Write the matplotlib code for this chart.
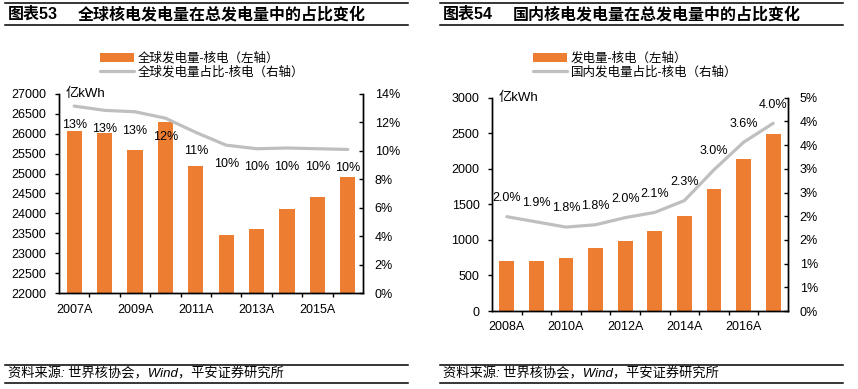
import numpy as np
import matplotlib
matplotlib.use("Agg")
import matplotlib.pyplot as plt
from matplotlib.lines import Line2D
from matplotlib.ticker import FuncFormatter, FixedLocator

ORANGE = "#ED7D31"
GREY = "#BFBFBF"
INK = "#000000"

plt.rcParams.update({
    "font.family": ["Liberation Sans", "Noto Sans CJK SC"],
    "font.size": 9,
    "axes.linewidth": 1.0,
})

# ---- data: left chart (global) ----
g_years = ["2007A", "2008A", "2009A", "2010A", "2011A",
           "2012A", "2013A", "2014A", "2015A", "2016A"]
g_gen = [26080, 26010, 25600, 26300, 25180, 23460, 23600, 24120, 24420, 24920]
g_share = [13.15, 12.85, 12.75, 12.3, 11.3, 10.4, 10.15, 10.2, 10.15, 10.1]

# ---- data: right chart (China) ----
c_years = ["2008A", "2009A", "2010A", "2011A", "2012A",
           "2013A", "2014A", "2015A", "2016A", "2017A"]
c_gen = [700, 705, 752, 880, 990, 1120, 1335, 1720, 2140, 2490]
c_share = [1.99, 1.88, 1.77, 1.82, 1.97, 2.08, 2.33, 2.98, 3.56, 3.96]

W, H = 858, 389
fig = plt.figure(figsize=(W / 100, H / 100), dpi=100)


def fx(px):
    return px / W


def fy(py):
    return 1 - py / H


def rule(x0, x1, y):
    fig.add_artist(Line2D([fx(x0), fx(x1)], [fy(y), fy(y)],
                          transform=fig.transFigure, color=INK, lw=1.1))


def half_up(v):
    return f"{int(np.floor(v + 0.5))}%"


def panel(rect, cats, gen, share, ylim, yticks, y2lim, y2ticks, y2fmt,
          lbl_fmt, lbl_dy, names, legend_xy, xlab_pad):
    ax = fig.add_axes(rect)
    x = np.arange(len(cats))
    bars = ax.bar(x, gen, width=0.5, color=ORANGE, zorder=2)
    ax.set_xlim(-0.5, len(cats) - 0.5)
    ax.set_ylim(*ylim)
    ax.set_yticks(yticks)
    ax.spines["top"].set_visible(False)
    ax.tick_params(axis="y", direction="out", length=3, width=1, pad=6,
                   labelsize=9)
    ax.set_xticks(x[::2])
    ax.set_xticklabels(cats[::2])
    ax.tick_params(axis="x", which="major", length=0, pad=xlab_pad, labelsize=9)
    ax.xaxis.set_minor_locator(FixedLocator(x[:-1] + 0.5))
    ax.tick_params(axis="x", which="minor", direction="out", length=3, width=1)

    ax2 = ax.twinx()
    line, = ax2.plot(x, share, color=GREY, lw=2.3, solid_capstyle="round",
                     zorder=3)
    ax2.set_ylim(*y2lim)
    ax2.set_yticks(y2ticks)
    ax2.yaxis.set_major_formatter(FuncFormatter(lambda v, p: y2fmt(v)))
    ax2.spines["top"].set_visible(False)
    ax2.tick_params(axis="y", direction="in", length=3, width=1, pad=8.5,
                    labelsize=9)
    for xi, v in zip(x, share):
        ax2.annotate(lbl_fmt(v), (xi, v), textcoords="offset points",
                     xytext=(0, lbl_dy), ha="center", va="center", fontsize=9)

    ax.text(0.022, 1.0, "亿kWh", transform=ax.transAxes, ha="left",
            va="center", fontsize=9.5)
    ax.legend([bars, line], names, loc="upper left",
              bbox_to_anchor=(fx(legend_xy[0]), fy(legend_xy[1])),
              bbox_transform=fig.transFigure, frameon=False, fontsize=9,
              handlelength=2.7, handleheight=0.75, handletextpad=0.3,
              labelspacing=0.1, borderaxespad=0, borderpad=0)
    return ax


# left panel
panel([fx(59), fy(293), fx(363 - 59), (293 - 94) / H],
      g_years, g_gen, g_share,
      (22000, 27000), np.arange(22000, 27001, 500),
      (0, 14), np.arange(0, 14.1, 2), lambda v: f"{v:.0f}%",
      lambda v: f"{v:.0f}%", -13.5,
      ["全球发电量-核电（左轴）", "全球发电量占比-核电（右轴）"],
      (100, 52), 8)

# right panel
panel([fx(492), fy(311), fx(788 - 492), (311 - 97.7) / H],
      c_years, c_gen, c_share,
      (0, 3000), np.arange(0, 3001, 500),
      (0, 4.5), np.arange(0, 4.51, 0.5), half_up,
      lambda v: f"{v:.1f}%", 13.5,
      ["发电量-核电（左轴）", "国内发电量占比-核电（右轴）"],
      (533, 52), 7)

# titles and rules
for x0, x1, num, title in [(5, 408, "图表53", "全球核电发电量在总发电量中的占比变化"),
                           (440, 843, "图表54", "国内核电发电量在总发电量中的占比变化")]:
    rule(x0, x1, 3)
    rule(x0, x1, 25)
    fig.text(fx(x0 + 3), fy(14.5), num, fontsize=11.5, fontweight="bold",
             ha="left", va="center")
    fig.text(fx(x0 + 73), fy(14.5), title, fontsize=11.5, fontweight="bold",
             ha="left", va="center")
    rule(x0, x1, 365)
    rule(x0, x1, 383)
    fig.text(fx(x0 + 3), fy(374), "资料来源: 世界核协会，Wind，平安证券研究所",
             fontsize=9.5, style="italic", ha="left", va="center")

fig.savefig("out.png", dpi=100)
